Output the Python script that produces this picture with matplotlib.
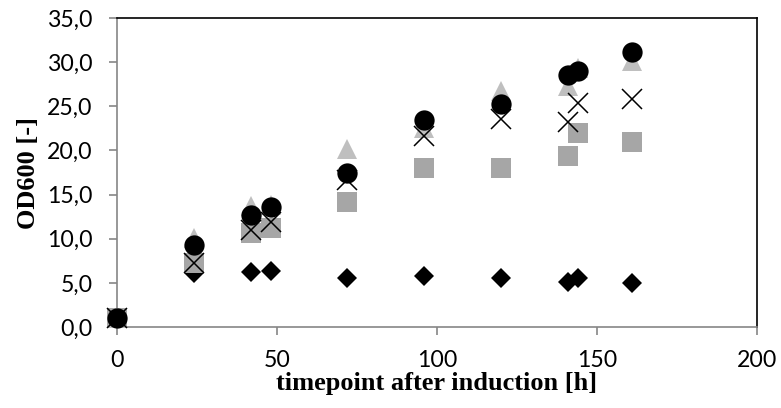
#!/usr/bin/env python3
"""OD600 über die Zeit nach Induktion, fünf Kulturen als Streudiagramm."""
import matplotlib

matplotlib.use("Agg")
import matplotlib.pyplot as plt
from matplotlib.ticker import FuncFormatter, MultipleLocator

# Zeitpunkte nach Induktion [h]
timepoints = [0, 24, 42, 48, 72, 96, 120, 141, 144, 161]

# OD600-Werte je Kultur
od_diamond = [1.0, 6.1, 6.2, 6.3, 5.6, 5.8, 5.6, 5.1, 5.6, 5.0]
od_square = [1.0, 7.2, 10.6, 11.2, 14.2, 18.0, 18.0, 19.4, 22.0, 21.0]
od_triangle = [1.0, 10.1, 13.7, 13.8, 20.2, 22.5, 26.7, 27.3, 29.3, 30.1]
od_cross = [1.0, 7.2, 11.0, 11.9, 16.6, 21.6, 23.6, 23.2, 25.4, 25.8]
od_circle = [1.0, 9.3, 12.7, 13.6, 17.5, 23.4, 25.3, 28.5, 29.0, 31.1]

x_ticks = [0, 50, 100, 150, 200]

GRAY_AXIS = "#868686"

fig = plt.figure(figsize=(7.81, 4.08), dpi=100)
ax = fig.add_axes([0.1498, 0.1985, 0.8195, 0.7574])

# Punkte bei t=0 liegen auf der Achse, daher nicht abschneiden
opts = dict(ls="none", clip_on=False, zorder=3)
ax.plot(timepoints, od_diamond, marker="D", ms=10.2, color="black", mew=0, **opts)
ax.plot(timepoints, od_square, marker="s", ms=14.4, color="#a6a6a6", mew=0, **opts)
ax.plot(timepoints, od_triangle, marker="^", ms=14.4, color="#bfbfbf", mew=0, **opts)
ax.plot(timepoints, od_cross, marker="x", ms=14.4, color="black", mew=1.1, **opts)
ax.plot(timepoints, od_circle, marker="o", ms=14.6, color="black", mew=0, **opts)

ax.set_xlim(0, 200)
ax.set_ylim(0, 35)
ax.set_xticks(x_ticks)
ax.yaxis.set_major_locator(MultipleLocator(5))
ax.yaxis.set_major_formatter(FuncFormatter(lambda v, _: f"{v:.1f}".replace(".", ",")))

for side in ("left", "bottom"):
    ax.spines[side].set_color(GRAY_AXIS)
    ax.spines[side].set_linewidth(1.2)
for side in ("top", "right"):
    ax.spines[side].set_color("black")
    ax.spines[side].set_linewidth(1.2)

ax.tick_params(axis="both", direction="out", length=5.5, width=1.2, color=GRAY_AXIS,
               labelsize=16.7)
ax.tick_params(axis="y", pad=12)
ax.tick_params(axis="x", pad=11)
for lab in ax.get_xticklabels() + ax.get_yticklabels():
    lab.set_fontfamily("Lato")

ax.set_xlabel("timepoint after induction [h]", family="Liberation Serif",
              fontweight="bold", fontsize=19, labelpad=1)
ax.set_ylabel("OD600 [-]", family="Liberation Serif", fontweight="bold",
              fontsize=19, labelpad=5)

fig.savefig("out.png")
